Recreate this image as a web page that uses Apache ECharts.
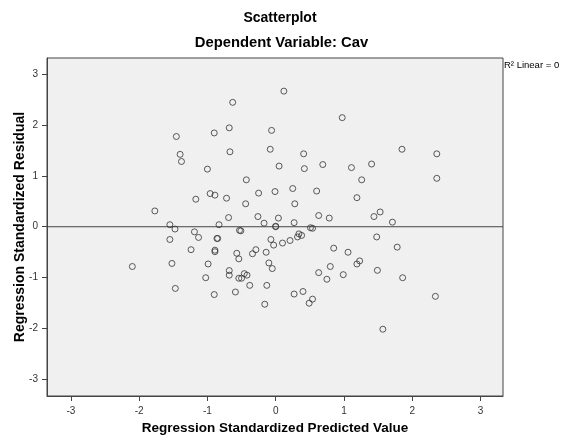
<!DOCTYPE html>
<html>
<head>
<meta charset="utf-8">
<script src="https://cdn.jsdelivr.net/npm/echarts@6/dist/echarts.min.js"></script>
<style>
  html, body { margin: 0; padding: 0; background: #ffffff; }
  #chart { width: 561px; height: 437px; }
</style>
</head>
<body>
<div id="chart"></div>
<script>
// Standardized predicted values (x) and standardized residuals (y)
const predicted = [
  -0.63, -1.455, -0.90, -0.68, -0.06, -1.40, -1.38, -0.67, -0.08, -1.00,
  0.05, -0.43, -1.17, -0.96, -0.89, -0.72, -0.25, -0.01, -0.44, -1.77,
  -0.69, -0.26, 0.04, -1.55, -0.83, -0.17, 0.00, 0.00,
  0.12, 0.975, 0.41, 0.42, 0.69, 1.11, 1.405, 1.85, 2.36, 2.36,
  1.26, 0.25, 0.60, 0.28, 1.19, 0.63, 0.785, 1.53, 1.44, 1.71,
  0.27, 0.51, 0.54,
  -1.475, -1.19, -1.13, -1.55, -0.86, -0.85, -0.53, -0.51, -1.24, -0.89,
  -0.89, -0.57, -0.54, -0.34, -0.29, -0.14, -0.07, -0.03, -1.52, -2.10,
  -0.99, -0.68, -0.68, -0.46, -0.42, -0.54, -0.50, -1.025, -0.38, -0.10,
  -0.05, -0.13, -1.47, -0.90, -0.59, -0.16,
  0.10, 0.21, 0.32, 0.34, 0.38, 1.48, 1.78, 0.85, 1.06, 1.19,
  1.23, 0.80, 0.63, 0.75, 0.99, 1.49, 1.86, 0.27, 0.40, 0.49,
  0.54, 2.34, 1.57
];
const residual = [
  2.44, 1.77, 1.84, 1.94, 1.89, 1.42, 1.28, 1.47, 1.52, 1.13,
  1.19, 0.92, 0.54, 0.65, 0.62, 0.56, 0.66, 0.69, 0.45, 0.31,
  0.18, 0.20, 0.17, 0.04, 0.04, 0.07, 0.00, 0.01,
  2.66, 2.14, 1.43, 1.14, 1.22, 1.16, 1.23, 1.52, 1.43, 0.95,
  0.92, 0.75, 0.70, 0.45, 0.57, 0.22, 0.17, 0.29, 0.20, 0.09,
  0.08, -0.02, -0.03,
  -0.045, -0.10, -0.21, -0.25, -0.23, -0.23, -0.07, -0.08, -0.45, -0.46,
  -0.49, -0.52, -0.63, -0.53, -0.45, -0.50, -0.25, -0.36, -0.72, -0.78,
  -0.73, -0.86, -0.95, -0.92, -0.95, -1.01, -1.01, -1.00, -1.15, -0.71,
  -0.82, -1.15, -1.21, -1.33, -1.28, -1.52,
  -0.32, -0.27, -0.20, -0.14, -0.17, -0.20, -0.40, -0.42, -0.50, -0.73,
  -0.67, -0.78, -0.90, -1.03, -0.94, -0.855, -1.00, -1.32, -1.27, -1.50,
  -1.42, -1.365, -2.01
];
const tickValues = [-3, -2, -1, 0, 1, 2, 3];

// Linear fit of residual on predicted value
const fitSlope = 0;
const fitIntercept = 0;

const xMin = -3.35, xMax = 3.33;
const yMin = -3.32, yMax = 3.31;

const points = predicted.map((x, i) => [x, residual[i]]);
const fitLine = [xMin, xMax].map(x => [x, fitIntercept + fitSlope * x]);

const FONT = '"Liberation Sans", Arial, sans-serif';
const chart = echarts.init(document.getElementById('chart'), null, { renderer: 'canvas' });

function axisCommon(labelMargin, nameSize) {
  return {
    type: 'value',
    nameLocation: 'middle',
    nameMoveOverlap: false,
    nameTextStyle: { fontFamily: FONT, fontSize: nameSize, fontWeight: 'bold', color: '#000' },
    axisLine: { show: true, onZero: false, lineStyle: { color: '#444', width: 1 } },
    axisTick: { show: true, inside: false, length: 5, customValues: tickValues,
      lineStyle: { color: '#444', width: 1 } },
    axisLabel: { customValues: tickValues, margin: labelMargin,
      fontFamily: FONT, fontSize: 10, color: '#333' },
    splitLine: { show: false }
  };
}

chart.setOption({
  animation: false,
  backgroundColor: '#ffffff',
  grid: {
    left: 47, right: 58, top: 58, bottom: 41,
    containLabel: false,
    outerBoundsMode: 'none',
    show: true, backgroundColor: '#f0f0f0', borderColor: '#444', borderWidth: 1
  },
  xAxis: Object.assign(axisCommon(10, 13.5), {
    min: xMin, max: xMax,
    name: 'Regression Standardized Predicted Value',
    nameGap: 25
  }),
  yAxis: Object.assign(axisCommon(9, 14), {
    min: yMin, max: yMax,
    name: 'Regression Standardized Residual',
    nameGap: 20
  }),
  graphic: [
    { type: 'text', x: 280, y: 18.5,
      style: { text: 'Scatterplot', textAlign: 'center', textVerticalAlign: 'middle',
        fontFamily: FONT, fontSize: 14, fontWeight: 'bold', fill: '#000' } },
    { type: 'text', x: 281.5, y: 43,
      style: { text: 'Dependent Variable: Cav', textAlign: 'center', textVerticalAlign: 'middle',
        fontFamily: FONT, fontSize: 14.8, fontWeight: 'bold', fill: '#000' } },
    { type: 'text', x: 504, y: 65,
      style: { text: 'R² Linear = 0', textAlign: 'left', textVerticalAlign: 'middle',
        fontFamily: FONT, fontSize: 9.5, fill: '#000' } }
  ],
  series: [
    {
      type: 'line',
      data: fitLine,
      symbol: 'none',
      lineStyle: { color: '#444', width: 1 },
      silent: true,
      z: 1
    },
    {
      type: 'scatter',
      data: points,
      symbol: 'circle',
      symbolSize: 6,
      itemStyle: { color: 'rgba(0,0,0,0)', borderColor: '#333', borderWidth: 1 },
      z: 2
    }
  ]
});
</script>
</body>
</html>
